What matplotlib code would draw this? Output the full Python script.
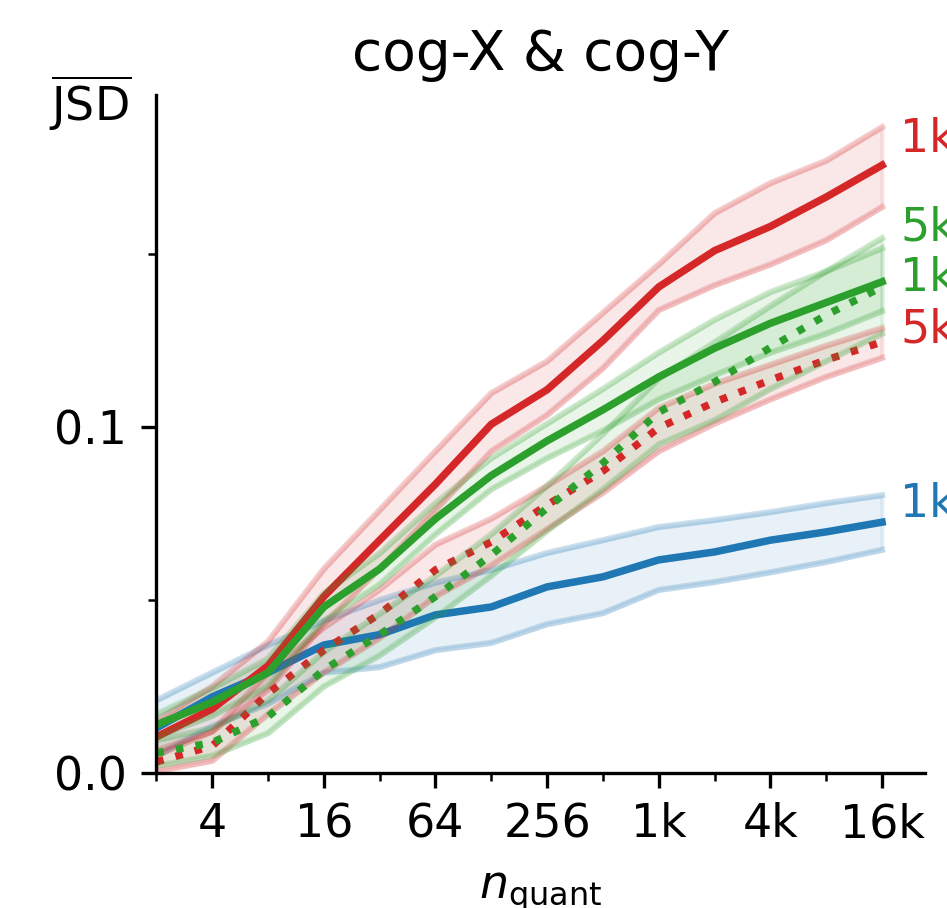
import numpy as np
import matplotlib
matplotlib.use('Agg')
import matplotlib.pyplot as plt

# quantisation levels 2 .. 16k
n_quant = 2 ** np.arange(1, 15)

# mean JSD and band limits per run
blue_1k = [0.013, 0.022, 0.029, 0.037, 0.040, 0.0457, 0.048, 0.0538, 0.0567, 0.0616, 0.0639, 0.0673, 0.0697, 0.0725]
blue_1k_hi = [0.021, 0.029, 0.037, 0.044, 0.050, 0.055, 0.0587, 0.0636, 0.0673, 0.0711, 0.0731, 0.0754, 0.078, 0.0803]
blue_1k_lo = [0.005, 0.0135, 0.020, 0.029, 0.0306, 0.0355, 0.0376, 0.043, 0.0462, 0.0529, 0.0552, 0.058, 0.061, 0.0645]

red_1k = [0.0104, 0.0185, 0.031, 0.051, 0.0673, 0.0835, 0.1008, 0.1108, 0.125, 0.1405, 0.151, 0.158, 0.1665, 0.1757]
red_1k_hi = [0.015, 0.025, 0.038, 0.059, 0.076, 0.093, 0.1098, 0.119, 0.133, 0.147, 0.1618, 0.1705, 0.177, 0.1867]
red_1k_lo = [0.005, 0.012, 0.024, 0.043, 0.059, 0.076, 0.093, 0.1035, 0.117, 0.1338, 0.141, 0.147, 0.154, 0.1636]

red_5k = [0.0032, 0.0078, 0.023, 0.0355, 0.046, 0.0587, 0.0668, 0.0775, 0.0873, 0.0998, 0.1072, 0.1136, 0.1194, 0.1246]
red_5k_hi = [0.0065, 0.012, 0.029, 0.042, 0.053, 0.066, 0.0735, 0.083, 0.093, 0.1055, 0.1125, 0.118, 0.1235, 0.1286]
red_5k_lo = [0.0005, 0.0035, 0.017, 0.029, 0.039, 0.051, 0.060, 0.0705, 0.081, 0.093, 0.101, 0.108, 0.1145, 0.120]

green_1k = [0.0139, 0.0205, 0.029, 0.048, 0.059, 0.0735, 0.086, 0.096, 0.105, 0.1145, 0.1228, 0.130, 0.136, 0.142]
green_1k_hi = [0.017, 0.0245, 0.033, 0.052, 0.0635, 0.078, 0.091, 0.101, 0.111, 0.1215, 0.131, 0.139, 0.145, 0.1517]
green_1k_lo = [0.0105, 0.0165, 0.025, 0.044, 0.0545, 0.069, 0.082, 0.091, 0.099, 0.108, 0.115, 0.1215, 0.127, 0.1335]

green_5k = [0.0058, 0.0088, 0.0163, 0.0298, 0.040, 0.051, 0.063, 0.0766, 0.0896, 0.1043, 0.113, 0.123, 0.1324, 0.1405]
green_5k_hi = [0.0095, 0.013, 0.021, 0.035, 0.046, 0.057, 0.069, 0.083, 0.098, 0.114, 0.1245, 0.135, 0.145, 0.1546]
green_5k_lo = [0.002, 0.005, 0.0115, 0.025, 0.034, 0.045, 0.057, 0.070, 0.082, 0.095, 0.102, 0.111, 0.119, 0.127]

xtick_vals = [4, 16, 64, 256, 1024, 4096, 16384]
xtick_labels = ['4', '16', '64', '256', '1k', '4k', '16k']

plt.rcParams['font.size'] = 11

runs = [
    ('tab:blue', '-', '1k', blue_1k, blue_1k_lo, blue_1k_hi),
    ('tab:red', '-', '1k', red_1k, red_1k_lo, red_1k_hi),
    ('tab:red', ':', '5k', red_5k, red_5k_lo, red_5k_hi),
    ('tab:green', '-', '1k', green_1k, green_1k_lo, green_1k_hi),
    ('tab:green', ':', '5k', green_5k, green_5k_lo, green_5k_hi),
]
# vertical nudge of the end labels so they don't collide
label_shift = [0.005, 0.0073, 0.0034, 0.001, 0.017]

fig = plt.figure(figsize=(947 / 300, 908 / 300), dpi=300)
ax = fig.add_axes([0.1651, 0.1487, 0.9768 - 0.1651, 0.8954 - 0.1487])

for (c, ls, lab, m, lo, hi), dy in zip(runs, label_shift):
    ax.fill_between(n_quant, lo, hi, color=c, alpha=0.1)
    ax.plot(n_quant, lo, color=c, alpha=0.22, lw=1.5)
    ax.plot(n_quant, hi, color=c, alpha=0.22, lw=1.5)
    ax.plot(n_quant, m, color=c, ls=ls, lw=1.8)
    ax.annotate(lab, xy=(n_quant[-1], m[-1] + dy), xytext=(4.3, 0),
                textcoords='offset points', color=c, va='center', ha='left')

ax.set_xscale('log', base=2)
ax.set_xlim(2, 2 ** 14.77)
ax.set_ylim(0, 0.196)
ax.set_xticks(xtick_vals)
ax.set_xticklabels(xtick_labels)
ax.set_xticks(list(2 ** np.arange(1, 15, 2)), minor=True)
ax.xaxis.set_minor_formatter(matplotlib.ticker.NullFormatter())
ax.set_yticks([0.0, 0.1])
ax.set_yticklabels(['0.0', '0.1'])
ax.set_yticks([0.05, 0.15], minor=True)

ax.spines['top'].set_visible(False)
ax.spines['right'].set_visible(False)

ax.set_title('cog-X & cog-Y', fontsize='large')
ax.set_xlabel(r'$n_{\mathrm{quant}}$', labelpad=5.5)
ax.set_ylabel(r'$\overline{\mathrm{JSD}}$', rotation=0, ha='center', va='center')
ax.yaxis.set_label_coords(-0.086, 0.988)

fig.savefig('out.png', dpi=300)
